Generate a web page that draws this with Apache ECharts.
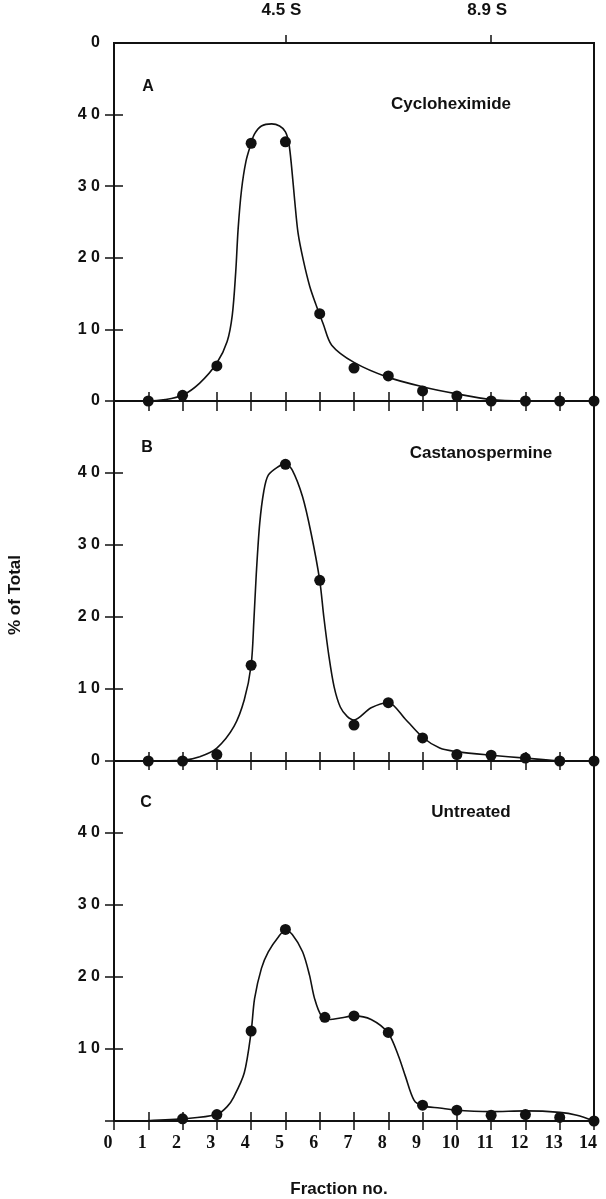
<!DOCTYPE html>
<html>
<head>
<meta charset="utf-8">
<title>% of Total by fraction</title>
<script src="https://cdn.jsdelivr.net/npm/echarts@6/dist/echarts.min.js"></script>
<style>
  html, body { margin: 0; padding: 0; background: #fff; }
  #chart { width: 606px; height: 1199px; }
</style>
</head>
<body>
<div id="chart"></div>
<script>
// fraction numbers (x) and measured % of total per panel
var fractions = [1, 2, 3, 4, 5, 6, 7, 8, 9, 10, 11, 12, 13, 14];
var cycloValues = [0, 0.8, 4.9, 36.0, 36.2, 12.2, 4.6, 3.5, 1.4, 0.7, 0, 0, 0, 0];
var castanoValues = [0, 0, 0.9, 13.3, 41.2, 25.1, 5.0, 8.1, 3.2, 0.9, 0.8, 0.4, 0, 0];
var untreatedFractions = [2, 3, 4, 5, 6.15, 7, 8, 9, 10, 11, 12, 13, 14];
var untreatedValues = [0.3, 0.9, 12.5, 26.6, 14.4, 14.6, 12.3, 2.2, 1.5, 0.8, 0.9, 0.5, 0];

// hand drawn fit curves
var cycloCurveX = [0.45, 1, 1.5, 2, 2.5, 3, 3.3, 3.45, 3.55, 3.62, 3.72, 3.85, 4.0, 4.1, 4.3, 4.6, 4.83, 5.0, 5.1, 5.18, 5.27, 5.37, 5.52, 5.71, 5.91, 6.1, 6.35, 7, 8, 9, 10, 11, 12];
var cycloCurveY = [0, 0, 0.2, 0.8, 2.5, 5.3, 8.3, 12, 18, 24, 29.5, 33.5, 36.0, 37.3, 38.4, 38.7, 38.4, 37.6, 36.0, 32.7, 28, 23.4, 19.7, 16, 13.2, 10.8, 7.8, 5.4, 3.3, 2.0, 1.0, 0.2, 0];
var castanoCurveX = [1, 2, 2.5, 3, 3.5, 3.8, 4, 4.08, 4.15, 4.25, 4.37, 4.5, 4.8, 5, 5.2, 5.5, 5.75, 6, 6.12, 6.27, 6.42, 6.6, 6.8, 7, 7.5, 8, 8.5, 9, 9.5, 10, 11, 12, 13];
var castanoCurveY = [0, 0.1, 0.6, 1.8, 4.8, 8.5, 13.3, 19.5, 26, 33, 37.5, 39.7, 40.9, 41.3, 40.4, 36.7, 31.6, 25.1, 20, 14.5, 10.3, 7.5, 6.2, 5.7, 7.4, 8.1, 5.8, 3.3, 1.8, 1.3, 0.8, 0.4, 0];
var untreatedCurveX = [0.75, 2, 3, 3.3, 3.5, 3.8, 4, 4.1, 4.3, 4.5, 4.8, 5, 5.2, 5.5, 5.7, 5.85, 6.05, 6.3, 6.6, 7, 7.5, 8, 8.3, 8.5, 8.75, 9, 9.5, 10, 10.5, 11, 12, 13, 13.5, 14];
var untreatedCurveY = [0, 0.3, 0.9, 2.0, 3.4, 6.7, 12.4, 17, 21.2, 23.5, 25.6, 26.5, 25.9, 23.5, 20.3, 17, 14.6, 14.1, 14.3, 14.6, 14.1, 12.2, 9, 6.2, 2.9, 2.1, 1.8, 1.5, 1.35, 1.3, 1.4, 1.2, 0.8, 0];

// axis ticks and marker labels
var yTickValues = [0, 10, 20, 30, 40];
var markerFractions = [5, 11];
var markerLabels = ['4.5 S', '8.9 S'];

var INK = '#111';
var SANS = "'Liberation Sans', Arial, sans-serif";
var SERIF = "'Liberation Serif', 'Times New Roman', serif";

function zip(xs, ys) {
    var out = [];
    for (var i = 0; i < xs.length; i++) out.push([xs[i], ys[i]]);
    return out;
}

var myChart = echarts.init(document.getElementById('chart'), null, {renderer: 'canvas'});

var panelTops = [43, 401, 761];
var panelHeights = [358, 360, 360];
var grids = [], xAxes = [], yAxes = [];
var tickLine = {color: INK, width: 1.5};

for (var g = 0; g < 3; g++) {
    grids.push({
        left: 114, right: 12, top: panelTops[g], height: panelHeights[g],
        show: true, borderColor: INK, borderWidth: 2, backgroundColor: 'transparent'
    });
    // bottom axis, ticks crossing the line (outside + inside)
    xAxes.push({
        gridIndex: g, type: 'value', min: 0, max: 14, interval: 1, position: 'bottom',
        axisLine: {show: true, onZero: false, lineStyle: {color: INK, width: 2}},
        axisTick: {show: true, inside: false, length: 9, lineStyle: tickLine},
        axisLabel: {
            show: g === 2, margin: 13, padding: [0, 12, 0, 0], color: INK,
            fontFamily: SERIF, fontSize: 18, fontWeight: 'bold',
            showMinLabel: true, showMaxLabel: true
        },
        splitLine: {show: false}
    });
    xAxes.push({
        gridIndex: g, type: 'value', min: 0, max: 14, interval: 1, position: 'bottom',
        axisLine: {show: false},
        axisTick: {show: true, inside: true, length: 9, lineStyle: tickLine},
        axisLabel: {show: false},
        splitLine: {show: false}
    });
    (function (gi) {
        yAxes.push({
            gridIndex: gi, type: 'value', min: 0, max: 50, interval: 10, position: 'left',
            axisLine: {show: true, onZero: false, lineStyle: {color: INK, width: 2}},
            axisTick: {show: true, inside: false, length: 9, customValues: yTickValues, lineStyle: tickLine},
            axisLabel: {
                show: true, margin: 14, color: INK, fontFamily: SANS, fontSize: 16, fontWeight: 'bold',
                formatter: function (v) {
                    if (v === 50 || (gi === 2 && v === 0)) return '';
                    return String(v).split('').join(' ');
                }
            },
            splitLine: {show: false}
        });
        yAxes.push({
            gridIndex: gi, type: 'value', min: 0, max: 50, interval: 10, position: 'left',
            axisLine: {show: false},
            axisTick: {show: true, inside: true, length: 9, customValues: yTickValues, lineStyle: tickLine},
            axisLabel: {show: false},
            splitLine: {show: false}
        });
    })(g);
}

// top scale of panel A with the sedimentation markers
xAxes.push({
    gridIndex: 0, type: 'value', min: 0, max: 14, interval: 1, position: 'top',
    axisLine: {show: true, lineStyle: {color: INK, width: 2}},
    axisTick: {show: true, inside: true, length: 10, lineStyle: tickLine},
    axisLabel: {
        show: true, margin: 24, padding: [0, 8, 0, 0], color: INK,
        fontFamily: SANS, fontSize: 17, fontWeight: 'bold',
        formatter: function (v) {
            var k = markerFractions.indexOf(v);
            return k >= 0 ? markerLabels[k] : '';
        }
    },
    splitLine: {show: false}
});
xAxes.push({
    gridIndex: 0, type: 'value', min: 0, max: 14, interval: 1, position: 'top',
    axisLine: {show: false},
    axisTick: {show: true, inside: false, length: 8, customValues: markerFractions, lineStyle: tickLine},
    axisLabel: {show: false},
    splitLine: {show: false}
});

var panels = [
    {dots: zip(fractions, cycloValues), curve: zip(cycloCurveX, cycloCurveY)},
    {dots: zip(fractions, castanoValues), curve: zip(castanoCurveX, castanoCurveY)},
    {dots: zip(untreatedFractions, untreatedValues), curve: zip(untreatedCurveX, untreatedCurveY)}
];

var series = [];
panels.forEach(function (p, i) {
    series.push({
        type: 'line', xAxisIndex: i * 2, yAxisIndex: i * 2,
        data: p.curve, smooth: 0.3, showSymbol: false, silent: true,
        lineStyle: {color: INK, width: 1.6}
    });
    series.push({
        type: 'scatter', xAxisIndex: i * 2, yAxisIndex: i * 2,
        data: p.dots, symbol: 'circle', symbolSize: 11,
        itemStyle: {color: INK, opacity: 1}
    });
});

function label(text, x, y, size, extra) {
    var el = {
        type: 'text', x: x, y: y,
        style: {
            text: text, fill: INK, align: 'center', verticalAlign: 'middle',
            fontFamily: SANS, fontSize: size, fontWeight: 'bold'
        }
    };
    for (var k in extra) el[k] = extra[k];
    return el;
}

var topZero = label('0', 100, 43, 16);
topZero.style.align = 'right';

var option = {
    animation: false,
    backgroundColor: '#fff',
    grid: grids,
    xAxis: xAxes,
    yAxis: yAxes,
    series: series,
    graphic: [
        topZero,
        label('A', 148, 87, 16),
        label('Cycloheximide', 451, 104, 17),
        label('B', 147, 448, 16),
        label('Castanospermine', 481, 453, 17),
        label('C', 146, 803, 16),
        label('Untreated', 471, 812, 17),
        label('% of Total', 15, 595, 17, {rotation: Math.PI / 2}),
        label('Fraction no.', 339, 1189, 17)
    ]
};

myChart.setOption(option);
</script>
</body>
</html>
